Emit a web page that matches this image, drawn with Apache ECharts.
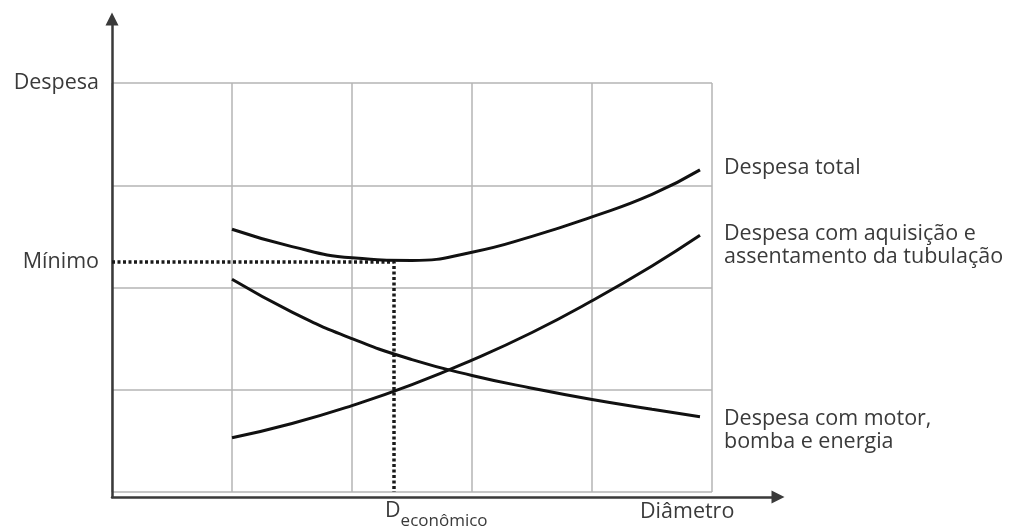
<!DOCTYPE html>
<html>
<head>
<meta charset="utf-8">
<script src="https://cdn.jsdelivr.net/npm/echarts@6/dist/echarts.min.js"></script>
<style>
  html, body { margin: 0; padding: 0; background: #fff; }
  #chart { width: 1014px; height: 530px; }
</style>
</head>
<body>
<div id="chart"></div>
<script>
// valores (unidades da grade)
const diameter = [1, 1.5, 2, 2.5, 3, 3.5, 4, 4.5, 4.9]
const totalCost = [2.57, 2.4, 2.29, 2.265, 2.345, 2.5, 2.69, 2.91, 3.15]
const pipeCost = [0.53, 0.67, 0.845, 1.05, 1.29, 1.56, 1.87, 2.21, 2.51]
const pumpCost = [2.08, 1.76, 1.5, 1.295, 1.14, 1.015, 0.905, 0.81, 0.735]
const minimum = [2.35, 2.25]

const seriesNames = [
  'Despesa total',
  'Despesa com aquisição e\nassentamento da tubulação',
  'Despesa com motor,\nbomba e energia'
]
const xLabelValues = [2.275, 4.4]
const xLabelText = ['{d|D}{s|econômico}', '{n|Diâmetro}']
const yLabelValues = [minimum[1], 4]
const yLabelText = ['Mínimo', 'Despesa']

const font = '"Open Sans", "DejaVu Sans", sans-serif'
const textColor = '#3a3a3a'

function pairs(xs, ys) {
  return xs.map(function (x, i) { return [x, ys[i]] })
}

function curve(name, values, offsetY) {
  return {
    name: name,
    type: 'line',
    xAxisIndex: 0,
    yAxisIndex: 0,
    smooth: true,
    symbol: 'none',
    data: pairs(diameter, values),
    lineStyle: { color: '#111', width: 3 },
    endLabel: {
      show: true,
      formatter: '{a}',
      distance: 24,
      offset: [0, offsetY],
      color: textColor,
      fontFamily: font,
      fontSize: 21.5,
      lineHeight: 23,
      align: 'left',
      verticalAlign: 'middle'
    },
    emphasis: { disabled: true },
    z: 5
  }
}

const chart = echarts.init(document.getElementById('chart'))

const arrowAxis = {
  type: 'value',
  gridIndex: 1,
  min: 0,
  max: 1,
  axisLine: {
    show: true,
    symbol: ['none', 'triangle'],
    symbolSize: [13, 13],
    lineStyle: { color: '#3a3a3a', width: 2.5 }
  },
  axisTick: { show: false },
  axisLabel: { show: false },
  splitLine: { show: false }
}

const option = {
  animation: false,
  grid: [
    { left: 112, right: 302, top: 83, bottom: 33 },
    { left: 112, right: 236, top: 19, bottom: 33 }
  ],
  xAxis: [
    {
      type: 'value',
      gridIndex: 0,
      min: 0,
      max: 5,
      interval: 1,
      axisLine: { show: false },
      axisTick: { show: false },
      splitLine: { show: true, lineStyle: { color: '#b4b4b4', width: 1.5 } },
      axisLabel: {
        customValues: xLabelValues,
        align: 'left',
        margin: 8,
        formatter: function (v) {
          return xLabelText[xLabelValues.indexOf(v)]
        },
        rich: {
          d: { fontFamily: font, fontSize: 21.5, color: textColor, verticalAlign: 'top', lineHeight: 22 },
          s: { fontFamily: font, fontSize: 17, color: textColor, verticalAlign: 'bottom', lineHeight: 30 },
          n: { fontFamily: font, fontSize: 21.5, color: textColor, lineHeight: 24 }
        }
      }
    },
    Object.assign({}, arrowAxis)
  ],
  yAxis: [
    {
      type: 'value',
      gridIndex: 0,
      min: 0,
      max: 4,
      interval: 1,
      axisLine: { show: false },
      axisTick: { show: false },
      splitLine: { show: true, lineStyle: { color: '#b4b4b4', width: 1.5 } },
      axisLabel: {
        customValues: yLabelValues,
        margin: 13,
        color: textColor,
        fontFamily: font,
        fontSize: 21.5,
        formatter: function (v) {
          return yLabelText[yLabelValues.indexOf(v)]
        }
      }
    },
    Object.assign({}, arrowAxis)
  ],
  series: [
    curve(seriesNames[0], totalCost, -2),
    curve(seriesNames[1], pipeCost, 10),
    curve(seriesNames[2], pumpCost, 14),
    {
      name: 'mínimo',
      type: 'line',
      xAxisIndex: 0,
      yAxisIndex: 0,
      symbol: 'none',
      data: [[0, minimum[1]], [minimum[0], minimum[1]], [minimum[0], 0]],
      lineStyle: { color: '#1a1a1a', width: 3.5, type: [3, 2.5] },
      emphasis: { disabled: true },
      z: 4
    }
  ]
}

chart.setOption(option)
</script>
</body>
</html>
